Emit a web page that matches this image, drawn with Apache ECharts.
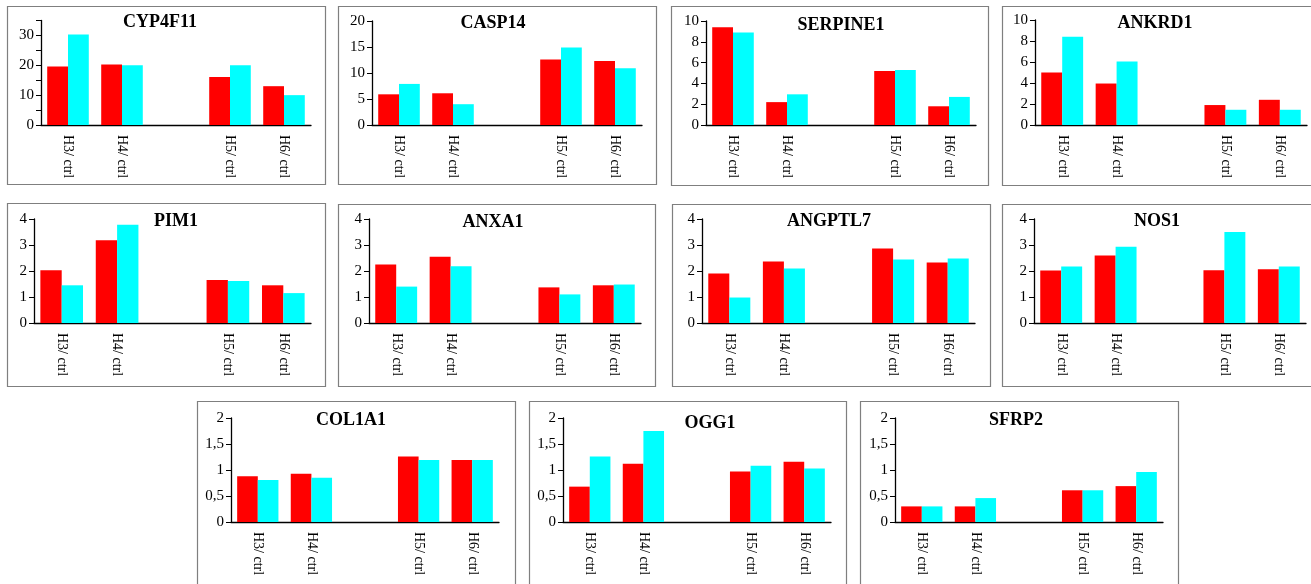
<!DOCTYPE html>
<html>
<head>
<meta charset="utf-8">
<script src="https://cdn.jsdelivr.net/npm/echarts@6/dist/echarts.min.js"></script>
<style>
html,body{margin:0;padding:0;background:#fff;}
#chart{width:1311px;height:584px;}
</style>
</head>
<body>
<div id="chart"></div>
<script>
// ---- data ----
const categories = ['H3/ ctrl', 'H4/ ctrl', '', 'H5/ ctrl', 'H6/ ctrl'];
const genes = ['CYP4F11', 'CASP14', 'SERPINE1', 'ANKRD1', 'PIM1', 'ANXA1', 'ANGPTL7', 'NOS1', 'COL1A1', 'OGG1', 'SFRP2'];

const cyp4f11Red  = [19.6, 20.3, null, 16.1, 13.0];
const cyp4f11Cyan = [30.3, 20.0, null, 20.0, 10.0];
const casp14Red   = [5.9, 6.1, null, 12.6, 12.3];
const casp14Cyan  = [7.9, 4.0, null, 14.9, 10.9];
const serpine1Red = [9.4, 2.2, null, 5.2, 1.8];
const serpine1Cyan= [8.9, 2.95, null, 5.3, 2.7];
const ankrd1Red   = [5.0, 3.95, null, 1.9, 2.4];
const ankrd1Cyan  = [8.4, 6.05, null, 1.45, 1.45];
const pim1Red     = [2.03, 3.18, null, 1.65, 1.45];
const pim1Cyan    = [1.45, 3.78, null, 1.62, 1.15];
const anxa1Red    = [2.25, 2.55, null, 1.37, 1.45];
const anxa1Cyan   = [1.4, 2.18, null, 1.1, 1.48];
const angptl7Red  = [1.9, 2.37, null, 2.87, 2.33];
const angptl7Cyan = [0.98, 2.1, null, 2.44, 2.48];
const nos1Red     = [2.02, 2.6, null, 2.03, 2.07];
const nos1Cyan    = [2.17, 2.93, null, 3.5, 2.17];
const col1a1Red   = [0.88, 0.93, null, 1.26, 1.19];
const col1a1Cyan  = [0.81, 0.85, null, 1.19, 1.19];
const ogg1Red     = [0.68, 1.12, null, 0.97, 1.16];
const ogg1Cyan    = [1.26, 1.75, null, 1.08, 1.03];
const sfrp2Red    = [0.3, 0.3, null, 0.61, 0.69];
const sfrp2Cyan   = [0.3, 0.46, null, 0.61, 0.96];

const redSeries  = [cyp4f11Red, casp14Red, serpine1Red, ankrd1Red, pim1Red, anxa1Red, angptl7Red, nos1Red, col1a1Red, ogg1Red, sfrp2Red];
const cyanSeries = [cyp4f11Cyan, casp14Cyan, serpine1Cyan, ankrd1Cyan, pim1Cyan, anxa1Cyan, angptl7Cyan, nos1Cyan, col1a1Cyan, ogg1Cyan, sfrp2Cyan];

// y-axis ticks: max, tick step, label step
const yMax       = [35, 20, 10, 10, 4, 4, 4, 4, 2, 2, 2];
const yTickStep  = [5, 5, 2, 2, 1, 1, 1, 1, 0.5, 0.5, 0.5];
const yLabelStep = [10, 5, 2, 2, 1, 1, 1, 1, 0.5, 0.5, 0.5];

// ---- layout (pixels) ----
const gridPos = [
  [41, 20.5, 270, 104.5], [372, 21, 270, 104], [706, 21, 270, 104], [1035, 20, 272, 105],
  [34, 219, 277, 104], [369, 219, 272, 104], [702, 219, 273, 104], [1034, 219, 272, 104],
  [231, 418, 268, 104], [563, 418, 268, 104], [895, 418, 268, 104]
];
const titlePos = [
  [160, 22], [493, 23], [841, 25], [1155, 23],
  [176, 221], [493, 222], [829, 221], [1157, 221],
  [351, 420], [710, 423], [1016, 420]
];
const boxPos = [
  [7, 6, 318, 178], [338, 6, 318, 178], [671, 6, 317, 179], [1002, 6, 340, 179],
  [7, 203, 318, 183], [338, 204, 317, 182], [672, 204, 318, 182], [1002, 204, 340, 182],
  [197, 401, 318, 220], [529, 401, 317, 220], [860, 401, 318, 220]
];

const FONT = 'Liberation Serif, Times New Roman, serif';
const RED = '#ff0000', CYAN = '#00ffff';

const grids = [], xAxes = [], yAxes = [], series = [], graphics = [];
genes.forEach((g, i) => {
  const [l, t, w, h] = gridPos[i];
  grids.push({ left: l, top: t, width: w, height: h, containLabel: false });
  xAxes.push({
    type: 'category', gridIndex: i, data: categories,
    axisLine: { lineStyle: { color: '#000', width: 1.3 } },
    axisTick: { show: false },
    axisLabel: { rotate: -90, interval: 0, margin: 10, fontFamily: FONT, fontSize: 14, color: '#000' }
  });
  const step = yLabelStep[i];
  yAxes.push({
    type: 'value', gridIndex: i, min: 0, max: yMax[i], interval: yTickStep[i],
    axisLine: { show: true, lineStyle: { color: '#000', width: 1.3 } },
    axisTick: { show: true, length: 5, lineStyle: { color: '#000' } },
    splitLine: { show: false },
    axisLabel: {
      margin: 7, fontFamily: FONT, fontSize: 15, color: '#000',
      formatter: v => (Math.abs(v / step - Math.round(v / step)) < 1e-6) ? String(v).replace('.', ',') : ''
    }
  });
  series.push({
    type: 'bar', xAxisIndex: i, yAxisIndex: i, data: redSeries[i],
    itemStyle: { color: RED }, barGap: '0%', barCategoryGap: '23%', silent: true
  });
  series.push({
    type: 'bar', xAxisIndex: i, yAxisIndex: i, data: cyanSeries[i],
    itemStyle: { color: CYAN }, barGap: '0%', barCategoryGap: '23%', silent: true
  });
  graphics.push({
    type: 'rect', z: -1, silent: true,
    shape: { x: boxPos[i][0] + 0.5, y: boxPos[i][1] + 0.5, width: boxPos[i][2], height: boxPos[i][3] },
    style: { fill: '#fff', stroke: '#7f7f7f', lineWidth: 1.2 }
  });
  graphics.push({
    type: 'text', z: 10, silent: true,
    x: titlePos[i][0], y: titlePos[i][1],
    style: { text: g, fill: '#000', font: 'bold 18px ' + FONT, textAlign: 'center', textVerticalAlign: 'middle' }
  });
});

const chart = echarts.init(document.getElementById('chart'), null, { renderer: 'canvas' });
chart.setOption({
  animation: false,
  backgroundColor: '#fff',
  grid: grids, xAxis: xAxes, yAxis: yAxes, series: series,
  graphic: graphics
});
</script>
</body>
</html>
